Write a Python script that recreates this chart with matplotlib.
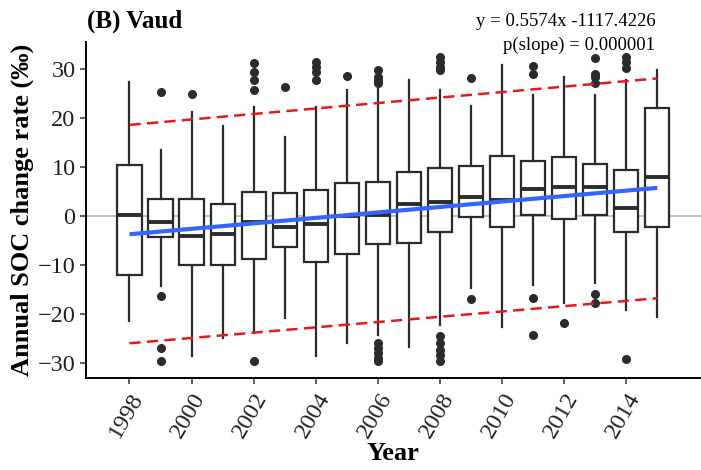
import matplotlib
matplotlib.use('Agg')
import matplotlib.pyplot as plt
import numpy as np

# per-year box stats (annual SOC change rate, per mille)
years = list(range(1998, 2016))
whis_lo = [-21.4, -14.4, -28.5, -25.0, -23.9, -20.9, -28.5, -26.0, -24.3,
           -26.7, -22.2, -14.8, -22.6, -14.1, -17.8, -13.7, -19.2, -20.6]
q1 = [-12.0, -4.2, -10.1, -10.1, -8.8, -6.3, -9.5, -7.8, -5.8,
      -5.6, -3.2, -0.3, -2.2, 0.1, -0.6, 0.1, -3.3, -2.3]
med = [0.3, -1.3, -4.0, -3.7, -1.3, -2.2, -1.6, 0.0, 0.1,
       2.4, 2.9, 3.8, 3.2, 5.6, 6.0, 5.9, 1.7, 8.0]
q3 = [10.4, 3.5, 3.5, 2.4, 4.8, 4.6, 5.3, 6.7, 7.0,
      8.9, 9.7, 10.2, 12.3, 11.2, 12.1, 10.7, 9.4, 22.0]
whis_hi = [27.4, 13.5, 21.3, 18.4, 22.3, 16.2, 22.2, 25.7, 26.1,
           27.8, 25.8, 22.4, 30.8, 24.7, 28.4, 24.7, 27.8, 29.8]
fliers = [
    [],
    [25.4, -16.3, -27.0, -29.6],
    [25.0],
    [],
    [31.2, 29.5, 27.8, 25.7, -29.7],
    [26.4],
    [31.5, 30.5, 29.5, 27.8],
    [28.6],
    [29.9, 28.4, 27.8, 27.1, -26.0, -27.0, -28.0, -29.0, -29.7],
    [],
    [32.5, 31.5, 30.5, 29.8, -24.6, -26.0, -27.3, -28.4, -29.7],
    [28.2, -17.0],
    [],
    [30.6, 29.1, -16.8, -24.3],
    [-21.9],
    [32.2, 29.1, 28.4, 27.2, -16.0, -17.8],
    [32.5, 31.5, 30.3, -29.3],
    [],
]

slope = 0.5574
intercept = -1117.4226
p_slope = '0.000001'
# prediction band ends (1998, 2015)
band_years = [1998, 2015]
band_upper = [18.6, 28.1]
band_lower = [-26.0, -16.8]

plt.rcParams['font.family'] = ['Liberation Serif', 'DejaVu Serif']

fig = plt.figure(figsize=(7.01, 4.70), dpi=100)
ax = fig.add_axes([0.1227, 0.1957, 0.877, 0.7156])

ax.axhline(0, color='#bdbdbd', lw=1.3, zorder=0)

stats = []
for i, y in enumerate(years):
    stats.append(dict(whislo=whis_lo[i], q1=q1[i], med=med[i], q3=q3[i],
                      whishi=whis_hi[i], fliers=fliers[i]))

ax.bxp(stats, positions=years, widths=0.78, patch_artist=True,
       showcaps=False,
       boxprops=dict(facecolor='white', edgecolor='#2b2b2b', lw=1.6),
       whiskerprops=dict(color='#2b2b2b', lw=1.6),
       medianprops=dict(color='#2b2b2b', lw=2.8),
       flierprops=dict(marker='o', markerfacecolor='#2b2b2b',
                       markeredgecolor='#2b2b2b', markersize=5.5),
       zorder=2)

xs = np.array([years[0], years[-1]])
ax.plot(xs, slope * xs + intercept, color='#3366FF', lw=3, zorder=4,
        solid_capstyle='butt')
ax.plot(band_years, band_upper, color='#e3191c', lw=1.8, ls=(0, (4.5, 2.5)), zorder=5)
ax.plot(band_years, band_lower, color='#e3191c', lw=1.8, ls=(0, (4.5, 2.5)), zorder=5)

ax.set_xlim(1996.6, 2016.4)
ax.set_ylim(-33.1, 35.6)
ax.set_yticks([-30, -20, -10, 0, 10, 20, 30])
ax.set_xticks(list(range(1998, 2015, 2)))
ax.set_xticklabels([str(y) for y in range(1998, 2015, 2)], rotation=60,
                   ha='right', rotation_mode='anchor')
ax.tick_params(axis='both', labelsize=17.5, length=4, width=1.1, color='#333333',
               labelcolor='#222222')
ax.tick_params(axis='x', pad=4)
for s in ['top', 'right']:
    ax.spines[s].set_visible(False)
for s in ['left', 'bottom']:
    ax.spines[s].set_linewidth(1.4)
    ax.spines[s].set_color('black')

ax.set_ylabel('Annual SOC change rate (\u2030)', fontsize=19, fontweight='bold',
              labelpad=3)
ax.set_xlabel('Year', fontsize=19, fontweight='bold', labelpad=0)

fig.text(0.124, 0.955, '(B) Vaud', fontsize=18, fontweight='bold',
         ha='left', va='center')
fig.text(0.935, 0.955, 'y = %.4fx %.4f' % (slope, intercept), fontsize=13.5,
         ha='right', va='center')
fig.text(0.935, 0.903, 'p(slope) = ' + p_slope, fontsize=13.5,
         ha='right', va='center')

fig.savefig('out.png', dpi=100)
